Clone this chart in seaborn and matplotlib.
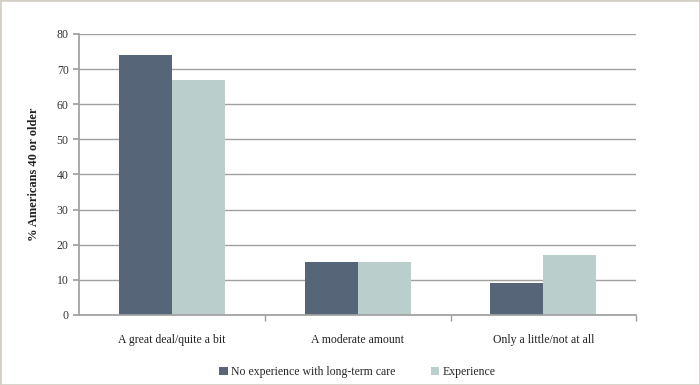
import pandas as pd
import matplotlib.pyplot as plt
import seaborn as sns
from matplotlib.patches import Rectangle

categories = ["A great deal/quite a bit", "A moderate amount", "Only a little/not at all"]
series = ["No experience with long-term care", "Experience"]
no_experience = [74, 15, 9]
experience = [67, 15, 17]
colors = ["#566577", "#bacfcc"]

df = pd.DataFrame({
    "category": categories * 2,
    "group": [series[0]] * 3 + [series[1]] * 3,
    "value": no_experience + experience,
})

sns.set_theme(style="white")
plt.rcParams["font.family"] = ["Liberation Serif", "DejaVu Serif"]

fig = plt.figure(figsize=(7, 3.85), dpi=100)
ax = fig.add_axes([0.113, 0.182, 0.796, 0.73])

sns.barplot(data=df, x="category", y="value", hue="group", palette=colors,
            width=0.57, saturation=1, linewidth=0, ax=ax, legend=True)

ax.set_ylim(0, 80)
ax.set_yticks(range(0, 81, 10))
ax.yaxis.grid(True, color="#a0a0a0", linewidth=1)
ax.set_axisbelow(True)
ax.set_xlim(-0.5, 2.5)
ax.set_xlabel("")
ax.set_ylabel("% Americans 40 or older", fontsize=9, fontweight="bold",
              color="#222222", labelpad=12)
for s in ["top", "right"]:
    ax.spines[s].set_visible(False)
for s in ["left", "bottom"]:
    ax.spines[s].set_color("#a0a0a0")
ax.tick_params(axis="y", left=True, length=4, color="#a0a0a0", labelsize=8.5, labelcolor="#333333")
ax.tick_params(axis="x", bottom=False, labelsize=8.5, labelcolor="#222222", pad=8)
ax.set_xticks([0.5, 1.5, 2.5], minor=True)
ax.tick_params(axis="x", which="minor", bottom=True, length=4, color="#a0a0a0")

ax.legend(loc="upper center", bbox_to_anchor=(0.5, -0.145), ncol=2, frameon=False,
          fontsize=8.5, handlelength=0.7, handleheight=0.7, columnspacing=3,
          handletextpad=0.3)

fig.patches.append(Rectangle((0, 0), 1, 1, transform=fig.transFigure, fill=False,
                             edgecolor="#d4d0c8", linewidth=2))

fig.savefig("out.png", dpi=100)
